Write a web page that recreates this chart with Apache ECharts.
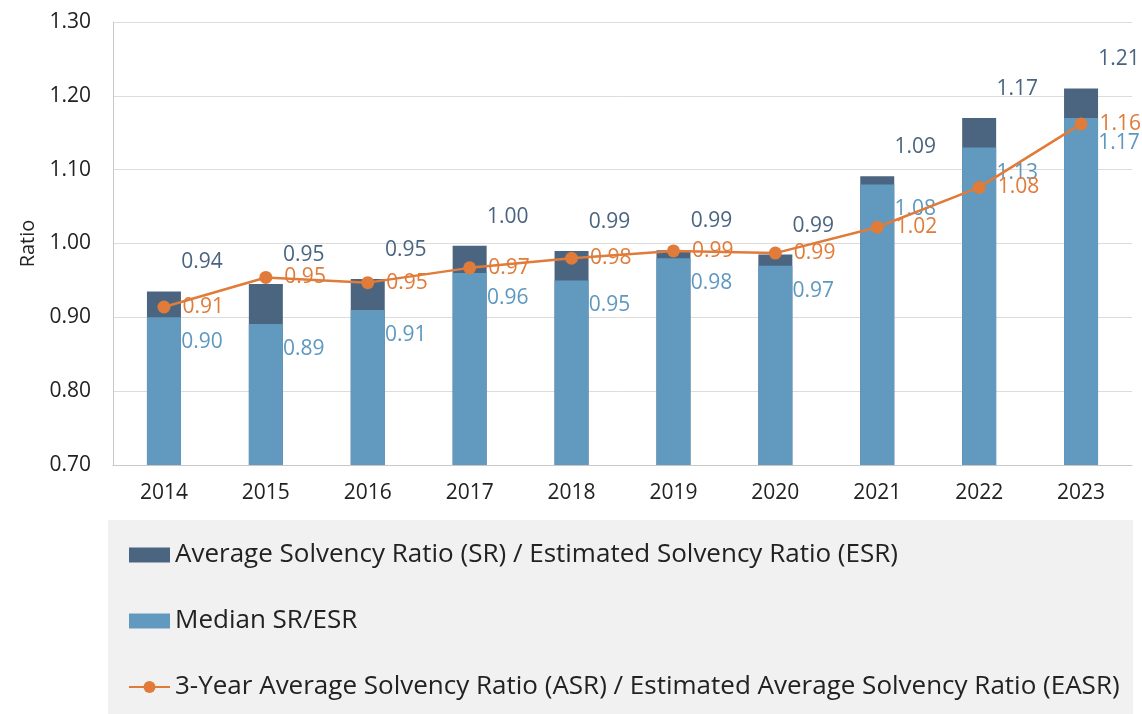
<!DOCTYPE html>
<html>
<head>
<meta charset="utf-8">
<script src="https://cdn.jsdelivr.net/npm/echarts@6/dist/echarts.min.js"></script>
<style>
html,body{margin:0;padding:0;background:#fff;}
#c{width:1142px;height:714px;}
</style>
</head>
<body>
<div id="c"></div>
<script>
const categories = ['2014','2015','2016','2017','2018','2019','2020','2021','2022','2023'];
const avgValues = [0.935, 0.945, 0.952, 0.997, 0.990, 0.991, 0.985, 1.091, 1.170, 1.210];
const avgLabels = ['0.94','0.95','0.95','1.00','0.99','0.99','0.99','1.09','1.17','1.21'];
const medianValues = [0.90, 0.891, 0.91, 0.96, 0.95, 0.98, 0.97, 1.08, 1.13, 1.17];
const medianLabels = ['0.90','0.89','0.91','0.96','0.95','0.98','0.97','1.08','1.13','1.17'];
const asrValues = [0.914, 0.954, 0.947, 0.967, 0.980, 0.990, 0.987, 1.022, 1.076, 1.162];
const asrLabels = ['0.91','0.95','0.95','0.97','0.98','0.99','0.99','1.02','1.08','1.16'];
const yTicks = [0.70, 0.80, 0.90, 1.00, 1.10, 1.20, 1.30];
const seriesNames = [
  'Average Solvency Ratio (SR) / Estimated Solvency Ratio (ESR)',
  'Median SR/ESR',
  '3-Year Average Solvency Ratio (ASR) / Estimated Average Solvency Ratio (EASR)'
];

const FONT = '"Open Sans", "Noto Sans", sans-serif';
const DARK = '#4b6581';
const LIGHT = '#6299be';
const ORANGE = '#e07b39';

const chart = echarts.init(document.getElementById('c'), null, {renderer: 'canvas'});
chart.setOption({
  animation: false,
  textStyle: {fontFamily: FONT},
  graphic: [{
    type: 'rect', left: 108, top: 520, z: -10,
    shape: {width: 1025, height: 194},
    style: {fill: '#f1f1f1'}
  }],
  grid: {left: 113, right: 10, top: 22, bottom: 249, containLabel: false},
  legend: {
    orient: 'vertical', left: 128, top: 540, padding: 0,
    itemWidth: 41, itemHeight: 15, itemGap: 36,
    data: [
      {name: seriesNames[0], icon: 'rect'},
      {name: seriesNames[1], icon: 'rect'},
      {name: seriesNames[2]}
    ],
    textStyle: {fontFamily: FONT, fontSize: 26, color: '#222', lineHeight: 30}
  },
  xAxis: {
    type: 'category', data: categories,
    axisLine: {lineStyle: {color: '#c8c8c8', width: 1}},
    axisTick: {show: false},
    axisLabel: {fontFamily: FONT, fontSize: 21, color: '#222', margin: 18}
  },
  yAxis: {
    type: 'value', min: 0.7, max: 1.3, interval: 0.1,
    name: 'Ratio', nameLocation: 'middle', nameGap: 70, nameRotate: 90,
    nameTextStyle: {fontFamily: FONT, fontSize: 20, color: '#222'},
    axisLine: {show: true, lineStyle: {color: '#c8c8c8', width: 1}},
    axisTick: {show: false},
    splitLine: {lineStyle: {color: '#dcdcdc', width: 1}},
    axisLabel: {
      fontFamily: FONT, fontSize: 21, color: '#222', margin: 22,
      formatter: function (v) {
        for (const t of yTicks) { if (Math.abs(t - v) < 1e-6) return t.toFixed(2); }
        return v.toFixed(2);
      }
    }
  },
  series: [
    {
      name: seriesNames[0], type: 'bar', data: avgValues,
      barWidth: 34, barGap: '-100%',
      itemStyle: {color: DARK},
      label: {
        show: true, position: 'top', distance: 0, offset: [38, -29],
        verticalAlign: 'middle',
        fontFamily: FONT, fontSize: 21, color: '#4a6480',
        formatter: p => avgLabels[p.dataIndex]
      },
      z: 2
    },
    {
      name: seriesNames[1], type: 'bar', data: medianValues,
      barWidth: 34, barGap: '-100%',
      itemStyle: {color: LIGHT},
      label: {
        show: true, position: 'top', distance: 0, offset: [38, 25],
        verticalAlign: 'middle',
        fontFamily: FONT, fontSize: 21, color: '#5d98c0',
        formatter: p => medianLabels[p.dataIndex]
      },
      z: 2
    },
    {
      name: seriesNames[2], type: 'line', data: asrValues,
      symbol: 'circle', symbolSize: 13,
      lineStyle: {color: ORANGE, width: 2.5},
      itemStyle: {color: ORANGE},
      label: {
        show: true, position: 'right', distance: 12,
        fontFamily: FONT, fontSize: 21, color: ORANGE,
        formatter: p => asrLabels[p.dataIndex]
      },
      z: 3
    }
  ]
});
</script>
</body>
</html>
